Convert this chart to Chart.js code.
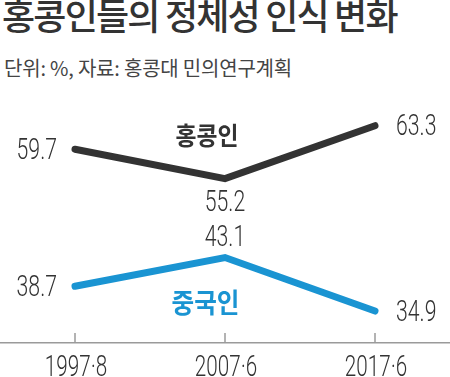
<!DOCTYPE html>
<html>
<head>
<meta charset="utf-8">
<script src="https://cdn.jsdelivr.net/npm/chart.js@4.4.1/dist/chart.umd.min.js"></script>
<style>
    html, body { margin: 0; padding: 0; background: #fff; }
    #wrap { position: relative; width: 450px; height: 377px; overflow: hidden; }
    #title {
        position: absolute; left: 2px; top: -4px;
        font: 500 36px/1 "Noto Sans CJK KR", sans-serif;
        color: #333; white-space: nowrap; letter-spacing: -1.8px;
    }
    #sub {
        position: absolute; left: 4px; top: 58px;
        font: 400 20px/1 "Noto Sans CJK KR", sans-serif;
        color: #444; white-space: nowrap; letter-spacing: -0.2px;
    }
    #chart { position: absolute; left: 0; top: 0; }
</style>
</head>
<body>
<div id="wrap">
    <div id="title">홍콩인들의 정체성 인식 변화</div>
    <div id="sub">단위: %, 자료: 홍콩대 민의연구계획</div>
    <canvas id="chart" width="450" height="377"></canvas>
</div>
<script>
    const periods = ['1997·8', '2007·6', '2017·6'];
    const hongKongers = [59.7, 55.2, 63.3];
    const chinese = [38.7, 43.1, 34.9];
    const seriesNames = ['홍콩인', '중국인'];
    const seriesColors = ['#333333', '#1a94d2'];

    // where each value label sits relative to its point
    const labelPlacement = [
        ['left', 'below', 'right'],
        ['left', 'above', 'right']
    ];
    // series name anchors, in category index / data value units
    const nameAnchors = [
        { index: 0.88, value: 61.9, size: 25, width: 63 },
        { index: 0.87, value: 36.2, size: 27, width: 68 }
    ];

    function drawCondensed(ctx, text, x, y, align, font, color, scaleX) {
        ctx.save();
        ctx.font = font;
        ctx.fillStyle = color;
        ctx.textBaseline = 'alphabetic';
        ctx.textAlign = 'left';
        const w = ctx.measureText(text).width * scaleX;
        let left = x - w / 2;
        if (align === 'left') left = x;
        if (align === 'right') left = x - w;
        ctx.translate(left, y);
        ctx.scale(scaleX, 1);
        ctx.fillText(text, 0, 0);
        ctx.restore();
    }

    const numberFont = '300 29.5px Roboto';
    const numberScale = 0.72;

    const annotations = {
        id: 'annotations',
        afterDatasetsDraw(chart) {
            const ctx = chart.ctx;
            const xScale = chart.scales.x;
            const yScale = chart.scales.y;
            const area = chart.chartArea;

            // value labels
            chart.data.datasets.forEach(function (ds, di) {
                const meta = chart.getDatasetMeta(di);
                meta.data.forEach(function (pt, i) {
                    const text = ds.data[i].toFixed(1);
                    const place = labelPlacement[di][i];
                    if (place === 'left') {
                        drawCondensed(ctx, text, pt.x - 18, pt.y + 10, 'right', numberFont, '#333', numberScale);
                    } else if (place === 'right') {
                        drawCondensed(ctx, text, pt.x + 21, pt.y + 9.5, 'left', numberFont, '#333', numberScale);
                    } else if (place === 'below') {
                        drawCondensed(ctx, text, pt.x, pt.y + 32, 'center', numberFont, '#333', numberScale);
                    } else {
                        drawCondensed(ctx, text, pt.x, pt.y - 12, 'center', numberFont, '#333', numberScale);
                    }
                });
            });

            // series names
            nameAnchors.forEach(function (a, di) {
                const x = xScale.getPixelForValue(a.index);
                const y = yScale.getPixelForValue(a.value);
                const font = '700 ' + a.size + 'px "Noto Sans CJK KR"';
                ctx.save();
                ctx.font = font;
                const natural = ctx.measureText(seriesNames[di]).width;
                ctx.restore();
                drawCondensed(ctx, seriesNames[di], x, y + a.size * 0.4, 'center', font, seriesColors[di], a.width / natural);
            });

            // tick marks and category labels
            xScale.ticks.forEach(function (t, i) {
                const x = xScale.getPixelForTick(i);
                ctx.save();
                ctx.strokeStyle = '#9a9a9a';
                ctx.lineWidth = 1.5;
                ctx.beginPath();
                ctx.moveTo(x, area.bottom - 10);
                ctx.lineTo(x, area.bottom);
                ctx.stroke();
                ctx.restore();
                drawCondensed(ctx, xScale.getLabelForValue(t.value), x + 1, area.bottom + 33, 'center', numberFont, '#333', 0.7);
            });
        }
    };

    new Chart(document.getElementById('chart').getContext('2d'), {
        type: 'line',
        data: {
            labels: periods,
            datasets: [
                {
                    label: seriesNames[0],
                    data: hongKongers,
                    borderColor: seriesColors[0],
                    borderWidth: 7,
                    borderCapStyle: 'round',
                    borderJoinStyle: 'miter',
                    pointRadius: 0,
                    tension: 0,
                    fill: false
                },
                {
                    label: seriesNames[1],
                    data: chinese,
                    borderColor: seriesColors[1],
                    borderWidth: 7,
                    borderCapStyle: 'round',
                    borderJoinStyle: 'miter',
                    pointRadius: 0,
                    tension: 0,
                    fill: false
                }
            ]
        },
        options: {
            responsive: false,
            animation: false,
            devicePixelRatio: 1,
            layout: { padding: { top: 82, bottom: 34, left: 0, right: 0 } },
            plugins: {
                legend: { display: false },
                tooltip: { enabled: false }
            },
            scales: {
                x: {
                    offset: true,
                    grid: { drawOnChartArea: false, drawTicks: false },
                    border: { display: true, color: '#9a9a9a', width: 1.5 },
                    ticks: { display: false }
                },
                y: {
                    display: false,
                    min: 30,
                    max: 70
                }
            }
        },
        plugins: [annotations]
    });
</script>
</body>
</html>
